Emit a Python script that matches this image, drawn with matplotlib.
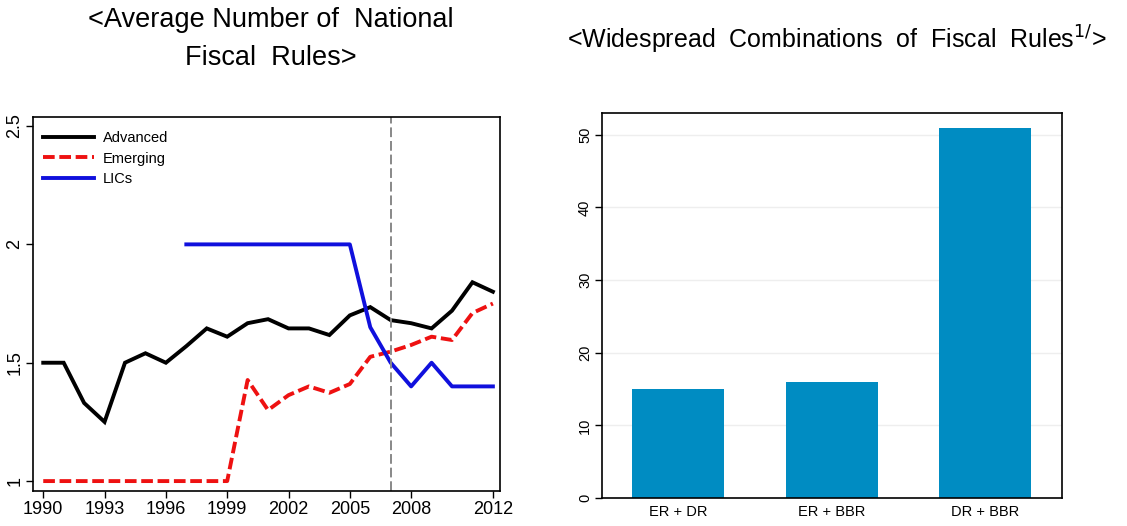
import matplotlib
matplotlib.use("Agg")
import matplotlib.pyplot as plt
from matplotlib import font_manager

# Font: narrow sans where available
names = {f.name for f in font_manager.fontManager.ttflist}
FAM = ["Liberation Sans Narrow", "Liberation Sans", "DejaVu Sans"]
FAM = [f for f in FAM if f in names] or ["DejaVu Sans"]
plt.rcParams["font.family"] = FAM

# Average number of national fiscal rules
years = list(range(1990, 2013))
advanced = [1.50, 1.50, 1.33, 1.25, 1.50, 1.54, 1.50, 1.57, 1.645, 1.61, 1.667, 1.684,
            1.645, 1.645, 1.617, 1.70, 1.735, 1.68, 1.667, 1.645, 1.72, 1.84, 1.80]
emerging = [1.0, 1.0, 1.0, 1.0, 1.0, 1.0, 1.0, 1.0, 1.0, 1.0, 1.427, 1.30,
            1.363, 1.40, 1.373, 1.41, 1.525, 1.547, 1.575, 1.61, 1.596, 1.71, 1.75]
lic_years = list(range(1997, 2013))
lics = [2.0, 2.0, 2.0, 2.0, 2.0, 2.0, 2.0, 2.0, 2.0, 1.65, 1.50, 1.40, 1.50, 1.40, 1.40, 1.40]
xticks = [1990, 1993, 1996, 1999, 2002, 2005, 2008, 2012]
yticks = [1, 1.5, 2, 2.5]
ytick_labels = ["1", "1.5", "2", "2.5"]
marker_year = 2007

# Widespread combinations of fiscal rules
combos = ["ER + DR", "ER + BBR", "DR + BBR"]
counts = [15, 16, 51]
bar_yticks = [0, 10, 20, 30, 40, 50]

fig = plt.figure(figsize=(11.27, 5.26), dpi=100)
fig.patch.set_facecolor("white")

# ---- Left panel ----
ax1 = fig.add_axes([0.0293, 0.0665, 0.4144, 0.711])
ax1.plot(years, advanced, color="black", lw=2.8, label="Advanced", solid_joinstyle="miter")
ax1.plot(years, emerging, color="#ee1111", lw=2.8, dashes=(3.0, 1.2), label="Emerging")
ax1.plot(lic_years, lics, color="#1010dd", lw=2.8, label="LICs")
ax1.axvline(marker_year, color="#888888", lw=1.4, ls=(0, (5, 2)))
ax1.set_xlim(1989.5, 2012.35)
ax1.set_ylim(0.958, 2.538)
ax1.set_xticks(xticks)
ax1.set_xticklabels([str(t) for t in xticks], fontsize=13)
ax1.set_yticks(yticks)
ax1.set_yticklabels(ytick_labels, fontsize=13, rotation=90, va="center")
ax1.tick_params(direction="out", length=5, width=1, color="black", pad=2)
for s in ax1.spines.values():
    s.set_linewidth(1.2)
    s.set_color("black")
leg = ax1.legend(loc="upper left", frameon=False, fontsize=10.5, handlelength=3.5,
                 handletextpad=0.6, labelspacing=0.45, borderaxespad=0.3,
                 bbox_to_anchor=(0.0, 0.99))

# ---- Right panel ----
ax2 = fig.add_axes([0.534, 0.0532, 0.408, 0.732])
ax2.bar(range(len(combos)), counts, width=0.6, color="#008cc2", zorder=2)
ax2.set_xlim(-0.5, 2.5)
ax2.set_ylim(0, 53.0)
ax2.set_xticks(range(len(combos)))
ax2.set_xticklabels(combos, fontsize=10.5)
ax2.set_yticks(bar_yticks)
ax2.set_yticklabels([str(t) for t in bar_yticks], fontsize=10.5, rotation=90, va="center")
ax2.yaxis.grid(True, color="#eeeeee", lw=1.0, zorder=0)
ax2.tick_params(axis="y", direction="out", length=5, width=1, pad=2)
ax2.tick_params(axis="x", length=0, pad=5)
for s in ax2.spines.values():
    s.set_linewidth(1.2)
    s.set_color("black")

# ---- Titles ----
fig.text(0.240, 0.962, "<Average Number of  National", ha="center", va="center", fontsize=19.5)
fig.text(0.240, 0.890, "Fiscal  Rules>", ha="center", va="center", fontsize=19.5)
fig.text(0.743, 0.925, r"<Widespread  Combinations  of  Fiscal  Rules$^{1/}$>",
         ha="center", va="center", fontsize=18)

fig.savefig("out.png", dpi=100, facecolor="white")
